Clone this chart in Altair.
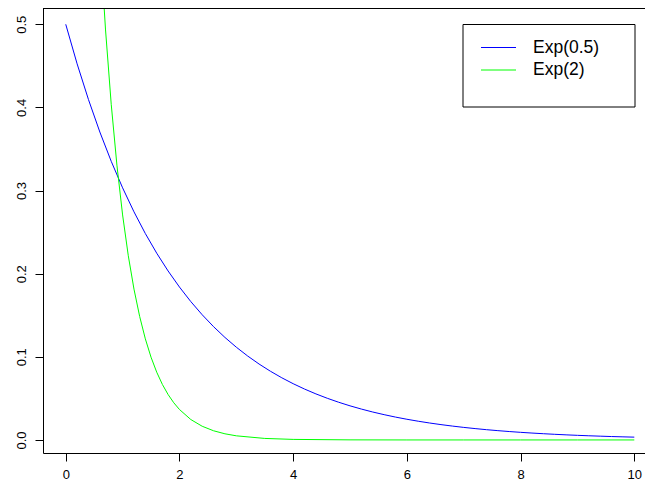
import altair as alt
import pandas as pd

# Exp(0.5) density
x_blue = [0.0, 0.2, 0.4, 0.6, 0.8, 1.0, 1.2, 1.4, 1.6, 1.8, 2.0, 2.2, 2.4, 2.6, 2.8,
          3.0, 3.2, 3.4, 3.6, 3.8, 4.0, 4.2, 4.4, 4.6, 4.8, 5.0, 5.2, 5.4, 5.6, 5.8,
          6.0, 6.2, 6.4, 6.6, 6.8, 7.0, 7.2, 7.4, 7.6, 7.8, 8.0, 8.2, 8.4, 8.6, 8.8,
          9.0, 9.2, 9.4, 9.6, 9.8, 10.0]
y_blue = [0.5, 0.45242, 0.40937, 0.37041, 0.33516, 0.30327, 0.27441, 0.24829, 0.22466,
          0.20328, 0.18394, 0.16643, 0.15060, 0.13627, 0.12330, 0.11157, 0.10095,
          0.09134, 0.08265, 0.07478, 0.06767, 0.06123, 0.05540, 0.05013, 0.04536,
          0.04104, 0.03714, 0.03360, 0.03041, 0.02751, 0.02489, 0.02252, 0.02038,
          0.01844, 0.01669, 0.01510, 0.01366, 0.01236, 0.01119, 0.01012, 0.00916,
          0.00829, 0.00750, 0.00679, 0.00614, 0.00555, 0.00503, 0.00455, 0.00411,
          0.00372, 0.00337]

# Exp(2) density
x_green = [0.5, 0.6, 0.7, 0.8, 0.9, 1.0, 1.1, 1.2, 1.3, 1.4, 1.5, 1.6, 1.7, 1.8, 1.9,
           2.0, 2.2, 2.4, 2.6, 2.8, 3.0, 3.5, 4.0, 5.0, 6.0, 7.0, 8.0, 9.0, 10.0]
y_green = [0.73576, 0.60239, 0.49319, 0.40379, 0.33060, 0.27067, 0.22161, 0.18144,
           0.14855, 0.12162, 0.09957, 0.08152, 0.06675, 0.05465, 0.04474, 0.03663,
           0.02455, 0.01646, 0.01103, 0.00740, 0.00496, 0.00182, 0.00067, 0.00009,
           0.00001, 0.0, 0.0, 0.0, 0.0]

x_ticks = [0, 2, 4, 6, 8, 10]
y_ticks = [0.0, 0.1, 0.2, 0.3, 0.4, 0.5]
legend_labels = ["Exp(0.5)", "Exp(2)"]
legend_colors = ["#0000FF", "#00FF00"]

df_blue = pd.DataFrame({"x": x_blue, "y": y_blue})
df_green = pd.DataFrame({"x": x_green, "y": y_green})

W, H = 602, 445
FONT = "Liberation Sans"

xscale = alt.Scale(domain=[-0.4, 10.188], nice=False, zero=False)
yscale = alt.Scale(domain=[-0.0157, 0.5196], nice=False, zero=False)

xaxis = alt.Axis(values=x_ticks, format="d", tickSize=8, labelFontSize=13, labelFont=FONT,
                 labelColor="black", tickColor="black", domainColor="black",
                 grid=False, labelPadding=7, labelFlush=False, labelOverlap=False)
yaxis = alt.Axis(values=y_ticks, format=".1f", tickSize=8, labelFontSize=13,
                 labelFont=FONT, labelAngle=-90, labelAlign="center",
                 labelBaseline="bottom", labelPadding=7, labelColor="black",
                 tickColor="black", domainColor="black", grid=False,
                 labelFlush=False, labelOverlap=False)

blue = alt.Chart(df_blue).mark_line(color=legend_colors[0], strokeWidth=1, clip=True).encode(
    x=alt.X("x:Q", scale=xscale, title=None, axis=xaxis),
    y=alt.Y("y:Q", scale=yscale, title=None, axis=yaxis), order="x:Q")
green = alt.Chart(df_green).mark_line(color=legend_colors[1], strokeWidth=1, clip=True).encode(
    x=alt.X("x:Q", scale=xscale, title=None, axis=xaxis),
    y=alt.Y("y:Q", scale=yscale, title=None, axis=yaxis), order="x:Q")

one = pd.DataFrame({"a": [0]})
# top border of the frame (right border lies outside the picture)
top_border = alt.Chart(one).mark_rule(color="black", strokeWidth=1).encode(
    x=alt.value(0), x2=alt.value(W), y=alt.value(0.5))

# legend (drawn as in base R)
leg_layers = [alt.Chart(one).mark_rect(fill="white", stroke="black", strokeWidth=1).encode(
    x=alt.value(420), x2=alt.value(592), y=alt.value(16.5), y2=alt.value(99))]
row_y = [39.5, 62]
for lab, col, yy in zip(legend_labels, legend_colors, row_y):
    leg_layers.append(alt.Chart(one).mark_rule(color=col, strokeWidth=1).encode(
        x=alt.value(438), x2=alt.value(473), y=alt.value(yy)))
    leg_layers.append(alt.Chart(one).mark_text(
        align="left", baseline="middle", fontSize=17.5, font=FONT, color="black",
        text=lab).encode(x=alt.value(490), y=alt.value(yy)))

chart = alt.layer(blue, green, top_border, *leg_layers).properties(
    width=W, height=H, autosize=alt.AutoSizeParams(type="none"),
    padding={"left": 35, "top": 0, "right": 0, "bottom": 28},
    background="white"
).configure_view(stroke=None)

chart.save("out.html", embed_options={"renderer": "svg", "actions": False})

with open("out.html", "r", encoding="utf-8") as f:
    html = f.read()
html = html.replace(
    "<head>",
    "<head><style>body{margin:8px 0 0 8px;} .vega-embed svg{display:block;}</style>", 1)
with open("out.html", "w", encoding="utf-8") as f:
    f.write(html)
